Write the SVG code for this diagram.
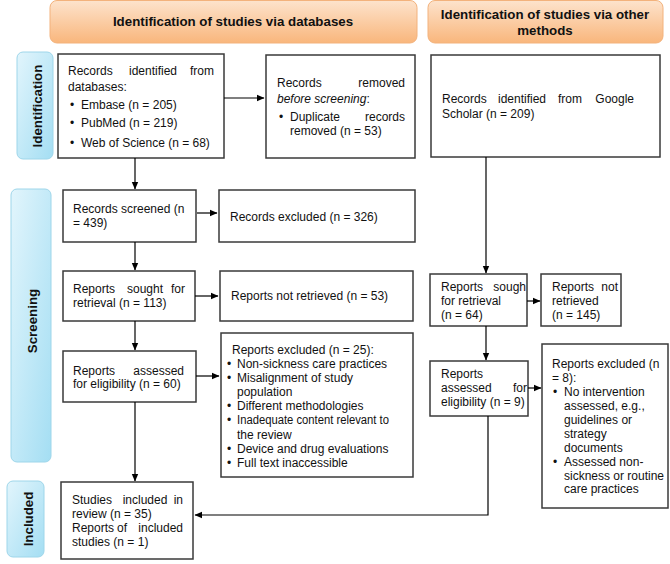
<svg xmlns="http://www.w3.org/2000/svg" width="670" height="564" viewBox="0 0 670 564">
<defs>
<linearGradient id="gOr" x1="0" y1="0" x2="0" y2="1"><stop offset="0" stop-color="#fde3cc"/><stop offset="1" stop-color="#f9b67c"/></linearGradient>
<linearGradient id="gBl" x1="0" y1="0" x2="1" y2="1"><stop offset="0" stop-color="#e2f5fc"/><stop offset="1" stop-color="#a4def3"/></linearGradient>
<marker id="ah" markerWidth="8" markerHeight="8" refX="7" refY="4" orient="auto" markerUnits="userSpaceOnUse"><path d="M0,0.8 L7.5,4 L0,7.2 z" fill="#000"/></marker>
<style>
.hdr{fill:url(#gOr);stroke:#f3b27c;stroke-width:1}
.side{fill:url(#gBl);stroke:#9ed6ea;stroke-width:1}
.box{fill:#fff;stroke:#3a3a3a;stroke-width:1.5}
text{font-family:"Liberation Sans",Arial,sans-serif;font-size:12px;fill:#111}
.ht{font-size:13.3px;font-weight:bold;text-anchor:middle}
.st{font-size:13.3px;font-weight:bold;text-anchor:middle}
.e{text-anchor:end}.m{text-anchor:middle}
.c line,.c polyline{stroke:#000;stroke-width:1.2;fill:none}
</style>
</defs>
<rect width="670" height="564" fill="#fff"/>

<g id="hdr-db"><rect class="hdr" x="50" y="0.5" width="367" height="42.5" rx="7"/><text class="ht" x="233" y="26">Identification of studies via databases</text></g>
<g id="hdr-other"><rect class="hdr" x="428" y="0.5" width="235" height="42.5" rx="7"/><text class="ht" x="545" y="19">Identification of studies via other</text><text class="ht" x="545" y="35">methods</text></g>

<g id="lbl-ident"><rect class="side" x="17" y="52" width="36" height="107" rx="6"/><text class="st" transform="translate(41.5,106) rotate(-90)">Identification</text></g>
<g id="lbl-screen"><rect class="side" x="11" y="189" width="40" height="273" rx="6"/><text class="st" transform="translate(37,321) rotate(-90)">Screening</text></g>
<g id="lbl-incl"><rect class="side" x="7" y="481" width="37" height="76" rx="6"/><text class="st" transform="translate(33,519) rotate(-90)">Included</text></g>

<g id="n-db"><rect class="box" x="58" y="54" width="166" height="104"/>
<text x="68" y="75">Records</text><text class="m" x="153" y="75">identified</text><text class="e" x="214" y="75">from</text>
<text x="68" y="91">databases:</text>
<text x="70" y="109">•</text><text x="81" y="109">Embase (n = 205)</text>
<text x="70" y="127">•</text><text x="81" y="127">PubMed (n = 219)</text>
<text x="70" y="147">•</text><text x="81" y="147">Web of Science (n = 68)</text></g>

<g id="n-removed"><rect class="box" x="266" y="55" width="149" height="103"/>
<text x="277" y="87">Records</text><text class="e" x="405" y="87">removed</text>
<text x="277" y="103"><tspan font-style="italic">before screening</tspan>:</text>
<text x="279" y="121">•</text><text x="290" y="121">Duplicate</text><text class="e" x="405" y="121">records</text>
<text x="290" y="135">removed (n = 53)</text></g>

<g id="n-google"><rect class="box" x="431" y="55" width="229" height="102"/>
<text x="442" y="103">Records</text><text x="498" y="103">identified</text><text x="558" y="103">from</text><text class="e" x="634" y="103">Google</text>
<text x="442" y="118">Scholar (n = 209)</text></g>

<g id="n-screened"><rect class="box" x="63" y="190" width="133" height="52"/>
<text x="73" y="213">Records screened (n</text><text x="73" y="227">= 439)</text></g>
<g id="n-excl326"><rect class="box" x="219" y="190" width="196" height="52"/>
<text x="230" y="221">Records excluded (n = 326)</text></g>

<g id="n-sought"><rect class="box" x="63" y="271" width="132" height="50"/>
<text x="73" y="293">Reports</text><text class="m" x="145" y="293">sought</text><text class="e" x="185" y="293">for</text>
<text x="73" y="307">retrieval (n = 113)</text></g>
<g id="n-notret53"><rect class="box" x="220" y="271" width="193" height="50"/>
<text x="231" y="300">Reports not retrieved (n = 53)</text></g>

<g id="n-sought64"><rect class="box" x="430" y="274" width="97" height="52"/>
<text x="441" y="291">Reports</text><text class="e" x="526" y="291">sough</text>
<text x="441" y="305">for retrieval</text><text x="441" y="319">(n = 64)</text></g>
<g id="n-notret145"><rect class="box" x="541" y="274" width="80" height="52"/>
<text x="552" y="291">Reports</text><text class="e" x="618" y="291">not</text>
<text x="552" y="305">retrieved</text><text x="552" y="319">(n = 145)</text></g>

<g id="n-assessed"><rect class="box" x="63" y="351" width="133" height="51"/>
<text x="73" y="375">Reports</text><text class="e" x="184" y="375">assessed</text>
<text x="73" y="388">for eligibility (n = 60)</text></g>
<g id="n-excl25"><rect class="box" x="221" y="333" width="192" height="144"/>
<text x="232" y="354">Reports excluded (n = 25):</text>
<text x="227" y="368">•</text><text x="237" y="368">Non-sickness care practices</text>
<text x="227" y="382">•</text><text x="237" y="382">Misalignment of study</text>
<text x="237" y="396">population</text>
<text x="227" y="410">•</text><text x="237" y="410">Different methodologies</text>
<text x="227" y="424">•</text><text x="237" y="424" textLength="152" lengthAdjust="spacingAndGlyphs">Inadequate content relevant to</text>
<text x="237" y="439">the review</text>
<text x="227" y="453">•</text><text x="237" y="453">Device and drug evaluations</text>
<text x="227" y="467">•</text><text x="237" y="467">Full text inaccessible</text></g>

<g id="n-assessed9"><rect class="box" x="430" y="361" width="98" height="55"/>
<text x="441" y="378">Reports</text>
<text x="441" y="392">assessed</text><text class="e" x="527" y="392">for</text>
<text x="441" y="406">eligibility (n = 9)</text></g>
<g id="n-excl8"><rect class="box" x="542" y="344" width="126" height="164"/>
<text x="552" y="368">Reports excluded (n</text><text x="552" y="382">= 8):</text>
<text x="553" y="396">•</text><text x="564" y="396">No intervention</text>
<text x="564" y="410">assessed, e.g.,</text>
<text x="564" y="424">guidelines or</text>
<text x="564" y="438">strategy</text>
<text x="564" y="452">documents</text>
<text x="553" y="466">•</text><text x="564" y="466">Assessed non-</text>
<text x="564" y="480">sickness or routine</text>
<text x="564" y="493">care practices</text></g>

<g id="n-included"><rect class="box" x="61" y="482" width="132" height="77"/>
<text x="72" y="504">Studies</text><text class="m" x="145" y="504">included</text><text class="e" x="183" y="504">in</text>
<text x="72" y="518">review (n = 35)</text>
<text x="72" y="532">Reports</text><text class="m" x="122" y="532">of</text><text class="e" x="183" y="532">included</text>
<text x="72" y="546">studies (n = 1)</text></g>

<g id="connectors" class="c">
<line x1="224" y1="98" x2="264" y2="98" marker-end="url(#ah)"/>
<line x1="135" y1="158" x2="135" y2="189" marker-end="url(#ah)"/>
<line x1="197" y1="213" x2="217" y2="213" marker-end="url(#ah)"/>
<line x1="135" y1="242" x2="135" y2="270" marker-end="url(#ah)"/>
<line x1="195" y1="296" x2="218" y2="296" marker-end="url(#ah)"/>
<line x1="135" y1="321" x2="135" y2="350" marker-end="url(#ah)"/>
<line x1="196" y1="376" x2="219" y2="376" marker-end="url(#ah)"/>
<line x1="135" y1="402" x2="135" y2="481" marker-end="url(#ah)"/>
<line x1="486" y1="157" x2="486" y2="273" marker-end="url(#ah)"/>
<line x1="527" y1="301" x2="540" y2="301" marker-end="url(#ah)"/>
<line x1="486" y1="326" x2="486" y2="360" marker-end="url(#ah)"/>
<line x1="528" y1="388" x2="541" y2="388" marker-end="url(#ah)"/>
<polyline points="488,416 488,515 195,515" marker-end="url(#ah)"/>
</g>
</svg>
